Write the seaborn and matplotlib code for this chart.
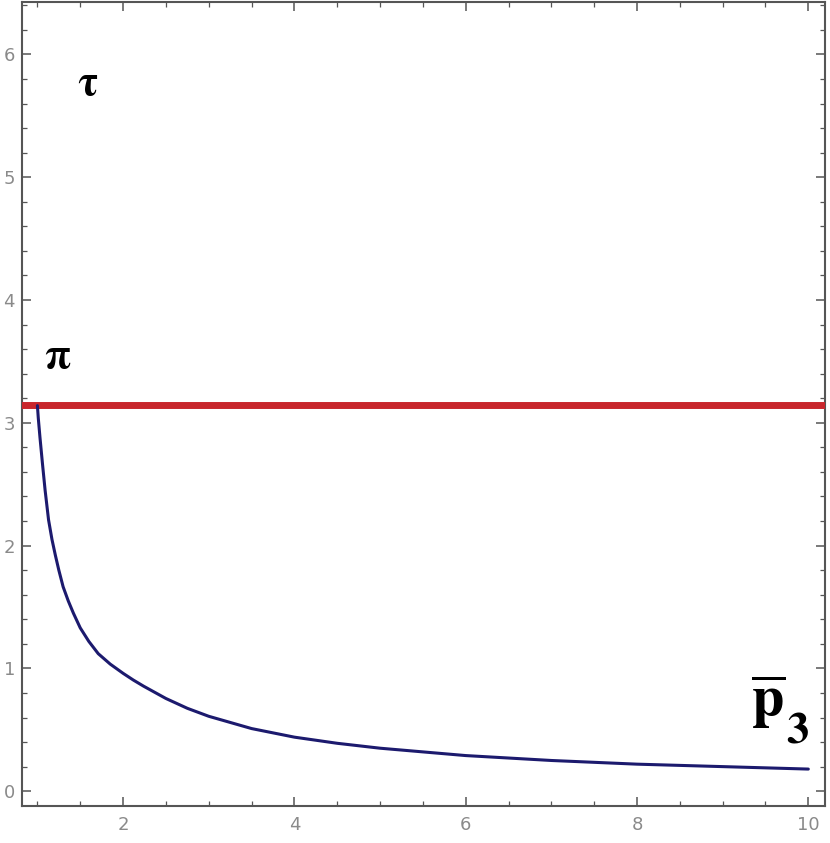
import numpy as np
import pandas as pd
import matplotlib
matplotlib.use("Agg")
import matplotlib.pyplot as plt
from matplotlib.ticker import MultipleLocator
import seaborn as sns

# values
p3_bar = [1.0, 1.01, 1.03, 1.06, 1.09, 1.13, 1.17, 1.21, 1.25, 1.30, 1.36, 1.42,
          1.50, 1.60, 1.71, 1.85, 2.0, 2.12, 2.24, 2.5, 2.75, 3.0, 3.5, 4.0, 4.5,
          5.0, 5.5, 6.0, 7.0, 8.0, 9.0, 10.0]
tau = [3.14, 3.04, 2.88, 2.66, 2.45, 2.21, 2.05, 1.92, 1.80, 1.665, 1.55, 1.45,
       1.33, 1.22, 1.12, 1.035, 0.96, 0.905, 0.855, 0.755, 0.675, 0.61, 0.51,
       0.44, 0.39, 0.35, 0.32, 0.29, 0.25, 0.22, 0.20, 0.18]
pi_level = np.pi

x_ticks = [2, 4, 6, 8, 10]
y_ticks = [0, 1, 2, 3, 4, 5, 6]

df = pd.DataFrame({"p3": p3_bar, "tau": tau})

sns.set_style("ticks")
plt.rcParams["font.family"] = ["DejaVu Sans"]
plt.rcParams["mathtext.fontset"] = "stix"

fig = plt.figure(figsize=(8.3, 8.43), dpi=100)
ax = fig.add_axes([0.0265, 0.044, 0.968, 0.954])

ax.axhline(pi_level, color="#c8262c", lw=5, zorder=3)
sns.lineplot(data=df, x="p3", y="tau", color="#1c1a6e", lw=2.2, ax=ax, zorder=4,
             sort=False)

ax.set_xlim(0.82, 10.2)
ax.set_ylim(-0.12, 6.43)
ax.set_xticks(x_ticks)
ax.set_yticks(y_ticks)
ax.xaxis.set_minor_locator(MultipleLocator(0.5))
ax.yaxis.set_minor_locator(MultipleLocator(0.2))
ax.tick_params(which="both", direction="in", top=True, right=True,
               colors="#555555", labelsize=13, labelcolor="#8a8a8a")
ax.tick_params(which="major", length=6.5, width=1.1)
ax.tick_params(which="minor", length=3.5, width=0.9)
ax.tick_params(axis="x", pad=7)
ax.tick_params(axis="y", pad=5)
for s in ax.spines.values():
    s.set_color("#555555")
    s.set_linewidth(1.5)
ax.set_xlabel("")
ax.set_ylabel("")

ax.text(1.59, 5.77, r"$\mathbf{\tau}$", fontsize=30, color="black",
        ha="center", va="center")
ax.text(1.235, 3.545, r"$\mathbf{\pi}$", fontsize=30, color="black",
        ha="center", va="center")
ax.text(9.535, 0.73, r"$\overline{\mathbf{p}}$", fontsize=42, color="black",
        ha="center", va="center")
ax.text(9.87, 0.50, r"$\mathbf{3}$", fontsize=32, color="black",
        ha="center", va="center")

fig.savefig("out.png", dpi=100, facecolor="white")
